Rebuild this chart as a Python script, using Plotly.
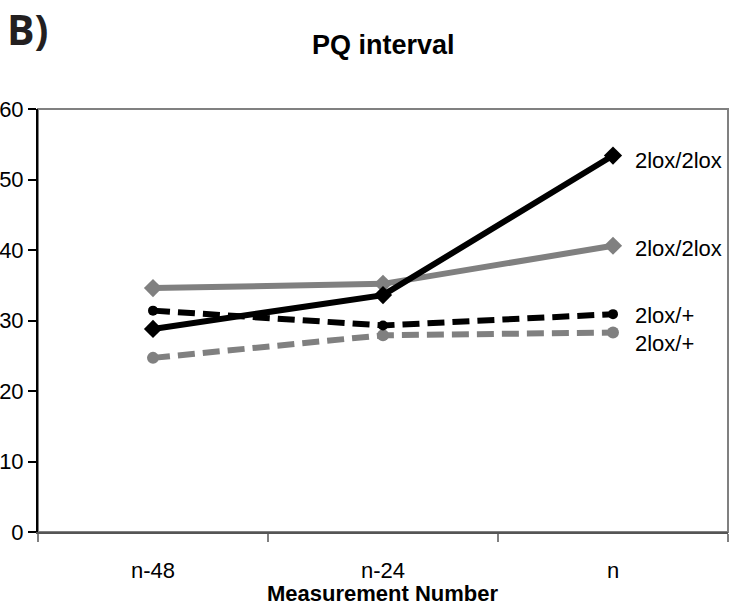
import plotly.graph_objects as go

categories = ["n-48", "n-24", "n"]
black_solid = [28.8, 33.6, 53.4]      # 2lox/2lox (black)
gray_solid = [34.6, 35.2, 40.6]       # 2lox/2lox (gray)
black_dashed = [31.4, 29.3, 30.9]     # 2lox/+ (black)
gray_dashed = [24.7, 27.9, 28.3]      # 2lox/+ (gray)
series_labels = ["2lox/2lox", "2lox/2lox", "2lox/+", "2lox/+"]
y_ticks = [0, 10, 20, 30, 40, 50, 60]

BLACK = "#000000"
GRAY = "#808080"
FONT = "Liberation Sans, Arial, sans-serif"

# plot area: x 38..728, y 109..532
L, R, T, B = 38, 2, 109, 78
PW = 730 - L - R
PH = 610 - T - B

fig = go.Figure()

fig.add_trace(go.Scatter(x=categories, y=gray_dashed, mode="lines+markers",
                         line=dict(color=GRAY, width=6, dash="17px,8px"),
                         marker=dict(symbol="circle", size=12, color=GRAY)))
fig.add_trace(go.Scatter(x=categories, y=black_dashed, mode="lines+markers",
                         line=dict(color=BLACK, width=6, dash="17px,8px"),
                         marker=dict(symbol="circle", size=10, color=BLACK)))
fig.add_trace(go.Scatter(x=categories, y=gray_solid, mode="lines+markers",
                         line=dict(color=GRAY, width=6),
                         marker=dict(symbol="diamond", size=14, color=GRAY)))
fig.add_trace(go.Scatter(x=categories, y=black_solid, mode="lines+markers",
                         line=dict(color=BLACK, width=6),
                         marker=dict(symbol="diamond", size=14, color=BLACK)))

label_font = dict(family=FONT, size=22, color="#000")
for vals, lab, ys in [(black_solid, series_labels[0], -5),
                      (gray_solid, series_labels[1], -3),
                      (black_dashed, series_labels[2], -1),
                      (gray_dashed, series_labels[3], -11)]:
    fig.add_annotation(x=categories[-1], y=vals[-1], text=lab, showarrow=False,
                       xanchor="left", yanchor="middle", xshift=20, yshift=ys,
                       font=label_font)

# plot border (gray top/right)
fig.add_shape(type="rect", xref="paper", yref="paper", x0=0, x1=1, y0=0, y1=1,
              line=dict(color=GRAY, width=2), layer="below")

# panel letter
fig.add_annotation(xref="paper", yref="paper", x=-(L - 5) / PW, y=1 + (T - 29) / PH,
                   text="<b>B)</b>", showarrow=False, xanchor="left", yanchor="middle",
                   font=dict(family="Open Sans, DejaVu Sans, sans-serif", size=41, color="#231f20"))

# chart title
fig.add_annotation(xref="paper", yref="paper", x=0.5, y=1 + (T - 45) / PH,
                   text="<b>PQ interval</b>", showarrow=False, xanchor="center", yanchor="middle",
                   font=dict(family=FONT, size=27, color="#000"))

# x-axis title
fig.add_annotation(xref="paper", yref="paper", x=0.5, y=-(593 - (610 - B)) / PH,
                   text="<b>Measurement Number</b>", showarrow=False, xanchor="center",
                   yanchor="middle", font=dict(family=FONT, size=22, color="#000"))

fig.update_layout(
    width=730, height=610,
    margin=dict(l=L, r=R, t=T, b=B, autoexpand=False),
    paper_bgcolor="white", plot_bgcolor="white",
    showlegend=False,
    font=dict(family=FONT, size=22, color="#000"),
)

fig.update_xaxes(type="category", categoryorder="array", categoryarray=categories,
                 range=[-0.5, 2.5],
                 tickson="boundaries", ticks="outside", ticklen=8, tickcolor=GRAY,
                 tickwidth=1.5, automargin=False, ticklabelstandoff=18,
                 showline=True, linecolor="#555555", linewidth=2,
                 showgrid=False, zeroline=False,
                 tickfont=dict(family=FONT, size=22, color="#000"))
fig.update_yaxes(range=[0, 60], tickvals=y_ticks, ticks="outside", ticklen=8,
                 tickcolor="#000", tickwidth=1.5, automargin=False, ticklabelstandoff=0,
                 showline=True, linecolor="#000", linewidth=2,
                 showgrid=False, zeroline=False,
                 tickfont=dict(family=FONT, size=22, color="#000"))

fig.write_html("out.html", config={"displayModeBar": False},
               post_script="document.body.style.margin='0';document.body.style.overflow='hidden';")
